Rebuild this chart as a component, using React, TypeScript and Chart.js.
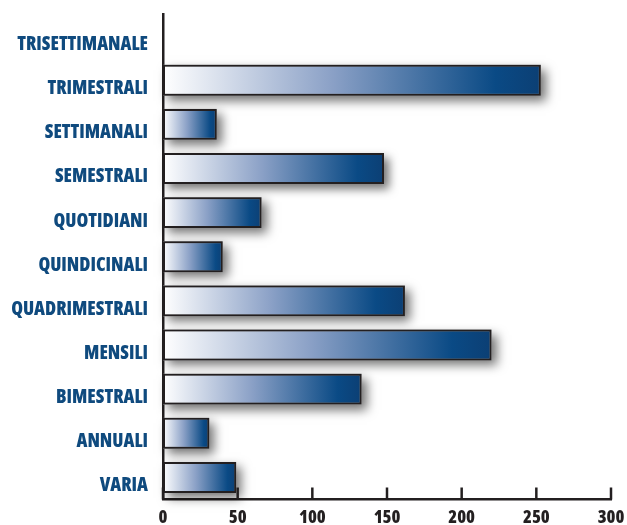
import { useEffect, useRef } from "react";
import { Chart, registerables } from "chart.js";

Chart.register(...registerables);

const categories = [
  "TRISETTIMANALE",
  "TRIMESTRALI",
  "SETTIMANALI",
  "SEMESTRALI",
  "QUOTIDIANI",
  "QUINDICINALI",
  "QUADRIMESTRALI",
  "MENSILI",
  "BIMESTRALI",
  "ANNUALI",
  "VARIA",
];
const values = [0, 253, 36, 148, 66, 40, 162, 220, 133, 31, 49];
const xTicks = [0, 50, 100, 150, 200, 250, 300];

const DARK = "#231f20";
const FONT = "'Open Sans', 'DejaVu Sans Condensed', sans-serif";

const shadowPlugin = {
  id: "barShadow",
  beforeDatasetsDraw(chart: any) {
    const ctx = chart.ctx;
    const meta = chart.getDatasetMeta(0);
    meta.data.forEach((el: any) => {
      const w = el.x - el.base;
      if (w <= 1) return;
      ctx.save();
      ctx.shadowColor = "rgba(0,0,0,0.55)";
      ctx.shadowBlur = 10;
      ctx.shadowOffsetX = 5;
      ctx.shadowOffsetY = 5;
      ctx.fillStyle = "#888";
      ctx.fillRect(el.base, el.y - el.height / 2, w, el.height);
      ctx.restore();
    });
  },
};

const tickMarksPlugin = {
  id: "insideTicks",
  afterDraw(chart: any) {
    const xs = chart.scales.x;
    const ctx = chart.ctx;
    const bottom = chart.chartArea.bottom;
    ctx.save();
    ctx.strokeStyle = DARK;
    ctx.lineWidth = 2.5;
    xTicks.forEach((v) => {
      const px = xs.getPixelForValue(v);
      ctx.beginPath();
      ctx.moveTo(px, bottom);
      ctx.lineTo(px, bottom - 12);
      ctx.stroke();
    });
    ctx.restore();
  },
};

export default function App() {
  const ref = useRef<HTMLCanvasElement | null>(null);

  useEffect(() => {
    if (!ref.current) return;
    const chart = new Chart(ref.current, {
      type: "bar",
      data: {
        labels: categories,
        datasets: [
          {
            data: values,
            backgroundColor: (c: any) => {
              const xs = c.chart.scales?.x;
              if (!xs || c.raw == null) return "#0a4a85";
              const x0 = xs.getPixelForValue(0);
              const x1 = xs.getPixelForValue(c.raw);
              if (!isFinite(x0) || !isFinite(x1) || x1 - x0 < 1) return "#0a4a85";
              const g = c.chart.ctx.createLinearGradient(x0, 0, x1, 0);
              g.addColorStop(0, "#ffffff");
              g.addColorStop(0.45, "#8aa0c6");
              g.addColorStop(0.88, "#0a4a85");
              g.addColorStop(1, "#0c3f74");
              return g;
            },
            borderColor: DARK,
            borderWidth: 2,
            borderSkipped: false,
            barPercentage: 0.7,
            categoryPercentage: 1,
          },
        ],
      },
      options: {
        indexAxis: "y",
        responsive: true,
        maintainAspectRatio: false,
        animation: false,
        layout: { padding: { left: 0, right: 16, top: 14, bottom: 0 } },
        plugins: {
          legend: { display: false },
          tooltip: { enabled: false },
        },
        scales: {
          x: {
            min: xTicks[0],
            max: xTicks[xTicks.length - 1],
            afterFit: (scale: any) => {
              scale.height = 25.5;
              scale.paddingLeft = 0;
              scale.paddingRight = 0;
            },
            ticks: {
              stepSize: 50,
              color: DARK,
              padding: 9,
              font: { family: FONT, size: 18, weight: "800 semi-condensed", lineHeight: 1 },
            },
            grid: { display: false, drawTicks: false },
            border: { display: true, color: DARK, width: 2.5 },
          },
          y: {
            afterFit: (scale: any) => {
              scale.width = 163;
              scale.paddingTop = 0;
              scale.paddingBottom = 0;
            },
            ticks: {
              color: "#0f4a7e",
              padding: 15,
              labelOffset: 8.5,
              font: { family: FONT, size: 19, weight: "800 semi-condensed" },
            },
            grid: { display: false, drawTicks: false },
            border: { display: true, color: DARK, width: 2.5 },
          },
        },
      },
      plugins: [shadowPlugin, tickMarksPlugin],
    } as any);
    return () => chart.destroy();
  }, []);

  return (
    <div style={{ position: "fixed", left: 0, top: 0, width: 627, height: 525, background: "#fff" }}>
      <canvas ref={ref} />
    </div>
  );
}
